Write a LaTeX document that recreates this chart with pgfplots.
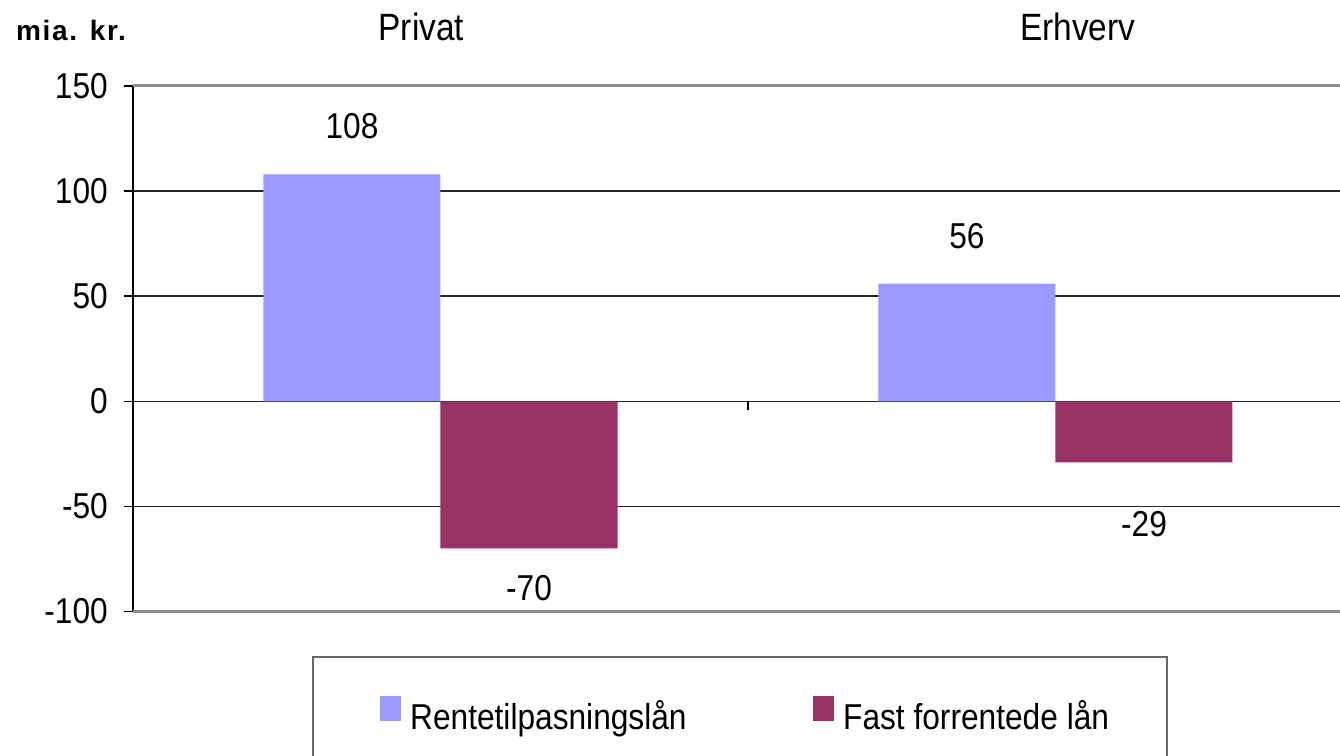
\documentclass[border=0pt]{standalone}
\usepackage{pgfplots}
\pgfplotsset{compat=1.18}
\usepackage{fontspec}
\setmainfont{Liberation Sans}[FakeStretch=0.88]
\newfontfamily\lab{Liberation Sans}[LetterSpace=6.0]
\definecolor{cblue}{HTML}{9999FF}
\definecolor{cred}{HTML}{993366}
\pgfplotsset{sqleg/.style={legend image code/.code={\fill[##1] (0bp,-5bp) rectangle (21bp,20bp); \path (30bp,0bp);}}}
\begin{document}
\begin{tikzpicture}
\useasboundingbox (0,0) rectangle (1340bp,756bp);
\begin{axis}[
  at={(133bp,144.5bp)}, anchor=south west,
  scale only axis, width=1207bp, height=525.5bp,
  xmin=-0.5, xmax=1.4626, ymin=-100, ymax=150,
  axis y line*=left, axis x line*=top,
  x axis line style={draw=none},
  y axis line style={-, black, line width=2bp},
  ytick={-100,-50,0,50,100,150},
  tick align=outside, major tick length=9bp,
  y tick style={black, line width=1.5bp},
  xtick={-0.031,1.036}, xticklabels={Privat,Erhverv},
  x tick style={draw=none},
  xticklabel style={anchor=base, inner sep=0pt, yshift=36bp, font=\fontsize{38bp}{42bp}\selectfont},
  yticklabel style={anchor=east, inner sep=0pt, xshift=-16bp},
  every tick label/.append style={font=\fontsize{36bp}{40bp}\selectfont},
  /pgf/number format/assume math mode=true,
  ymajorgrids, grid style={black!85, line width=1.5bp},
  extra y ticks={-100,150}, extra y tick labels={},
  extra y tick style={major tick length=0pt, grid style={black!45, line width=3bp}},
  legend columns=2,
  legend style={draw=none, fill=none, inner sep=0pt,
    at={(axis description cs:0.2046,-0.194)}, anchor=west,
    font=\fontsize{36bp}{40bp}\selectfont,
    nodes={inner sep=0pt},
    /tikz/every even column/.append style={column sep=126.5bp}},
]
\addplot[ybar, bar width=177bp, bar shift=-88.5bp, fill=cblue, draw=none, sqleg]
  coordinates {(0,108) (1,56)};
\addlegendentry{Rentetilpasningslån}
\addplot[ybar, bar width=177bp, bar shift=88.5bp, fill=cred, draw=none, sqleg]
  coordinates {(0,-70) (1,-29)};
\addlegendentry{Fast forrentede lån}
\addplot[forget plot, draw=none, mark=none, nodes near coords, point meta=explicit symbolic,
  every node near coord/.style={anchor=center, inner sep=0pt, font=\fontsize{36bp}{40bp}\selectfont}]
  coordinates {(-0.1439,130.7)[108] (0.1439,-88.9)[-70] (0.8561,78.4)[56] (1.1439,-58.5)[-29]};
\draw[black, line width=2bp] (axis cs:0.5,0) -- ([yshift=-9bp]axis cs:0.5,0);
\end{axis}
\draw[black!60, line width=1.5bp] (313bp,-10bp) rectangle (1167bp,99bp);
\node[anchor=base west, inner sep=0pt, font=\fontsize{28bp}{30bp}\lab\bfseries] at (16bp,715bp) {mia. kr.};
\end{tikzpicture}
\end{document}
